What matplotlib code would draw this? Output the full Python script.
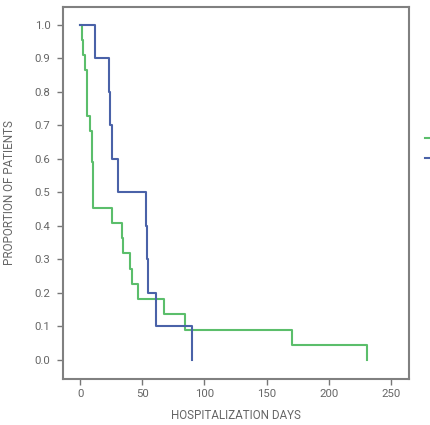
import matplotlib
matplotlib.use("Agg")
import matplotlib.pyplot as plt

# Data (Kaplan-Meier style step curves)
green_days = [0, 1.7, 2.5, 3.9, 5.5, 7.6, 9.7, 10.5, 25.8, 33.9, 34.7, 40.0, 42.0, 46.2, 67.2, 84.3, 170.6, 230.7]
green_prop = [1.0, 0.955, 0.909, 0.864, 0.727, 0.682, 0.591, 0.4545, 0.409, 0.364, 0.318, 0.273, 0.227, 0.182, 0.136, 0.091, 0.045, 0.0]
blue_days = [0, 11.9, 22.9, 23.7, 25.8, 30.7, 52.8, 53.5, 54.8, 60.7, 90.3]
blue_prop = [1.0, 0.9, 0.8, 0.7, 0.6, 0.5, 0.4, 0.3, 0.2, 0.1, 0.0]
x_ticks = [0, 50, 100, 150, 200, 250]
y_ticks = [0.0, 0.1, 0.2, 0.3, 0.4, 0.5, 0.6, 0.7, 0.8, 0.9, 1.0]

plt.rcParams['font.family'] = ['Roboto', 'DejaVu Sans']

fig = plt.figure(figsize=(4.31, 4.25), dpi=100)
ax = fig.add_axes([0.146, 0.108, 0.804, 0.876])

GREEN = '#5BBE6B'
BLUE = '#4A62A8'
lg, = ax.step(green_days, green_prop, where='post', color=GREEN, lw=1.5)
lb, = ax.step(blue_days, blue_prop, where='post', color=BLUE, lw=1.5)

ax.set_xlim(-13.8, 264.8)
ax.set_ylim(-0.057, 1.054)
ax.set_xticks(x_ticks)
ax.set_yticks(y_ticks)
ax.set_xticklabels([str(v) for v in x_ticks])
ax.set_yticklabels([f"{v:.1f}" for v in y_ticks])

tc = '#666666'
for s in ax.spines.values():
    s.set_color('#808080')
    s.set_linewidth(1.5)
ax.tick_params(direction='out', length=4, width=1, color='#777777', labelcolor=tc, labelsize=8.2, pad=5)
ax.tick_params(axis='x', pad=3)

ax.set_xlabel("HOSPITALIZATION DAYS", color=tc, fontsize=8.4, labelpad=7)
ax.set_ylabel("PROPORTION OF PATIENTS", color=tc, fontsize=8.4, labelpad=13)

# legend handles only (labels fall outside the visible figure in the reference)
fig.legend([lg, lb], ['', ''], loc='upper left', bbox_to_anchor=(0.986, 0.686), frameon=False,
           handlelength=1.2, fontsize=8, labelspacing=0.95, borderaxespad=0, borderpad=0)

fig.savefig("out.png", dpi=100)
